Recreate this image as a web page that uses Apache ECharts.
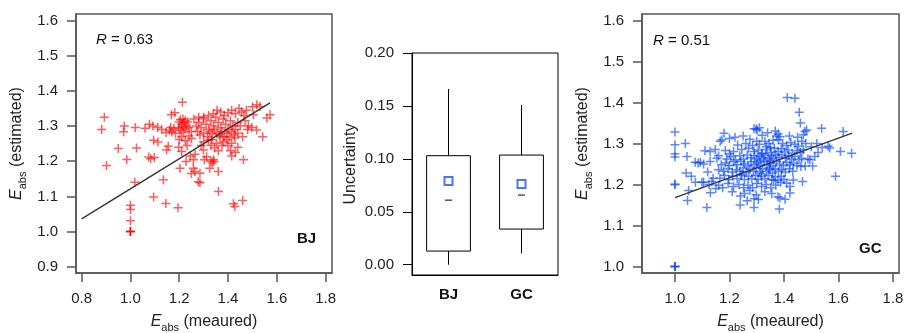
<!DOCTYPE html>
<html>
<head>
<meta charset="utf-8">
<script src="https://cdn.jsdelivr.net/npm/echarts@6/dist/echarts.min.js"></script>
<style>
  html, body { margin: 0; padding: 0; background: #fff; }
  #chart { width: 907px; height: 333px; }
</style>
</head>
<body>
<div id="chart"></div>
<script>
// BJ: estimated vs measured E_abs
const bjPoints = [
  [0.882,1.290],[0.893,1.325],[0.902,1.188],[0.950,1.236],[0.975,1.300],[0.972,1.284],[0.985,1.205],
  [1.020,1.296],[1.025,1.238],[1.018,1.140],[1.000,1.075],[1.000,1.063],[1.000,1.031],[1.000,1.000],
  [1.000,1.000],[1.000,1.000],[1.060,1.294],[1.078,1.305],[1.092,1.300],[1.112,1.296],[1.075,1.212],
  [1.083,1.207],[1.098,1.211],[1.095,1.260],[1.113,1.255],[1.135,1.147],[1.095,1.098],[1.145,1.080],
  [1.195,1.068],[1.128,1.290],[1.146,1.282],[1.160,1.288],[1.148,1.232],[1.155,1.243],[1.168,1.332],
  [1.182,1.338],[1.213,1.368],[1.200,1.312],[1.205,1.318],[1.210,1.305],[1.215,1.320],[1.220,1.310],
  [1.225,1.316],[1.230,1.300],[1.235,1.312],[1.198,1.295],[1.205,1.288],[1.212,1.298],[1.218,1.283],
  [1.225,1.292],[1.240,1.296],[1.250,1.285],[1.178,1.293],[1.185,1.280],[1.170,1.283],[1.165,1.296],
  [1.200,1.262],[1.210,1.270],[1.225,1.258],[1.240,1.272],[1.250,1.265],[1.198,1.240],[1.210,1.228],
  [1.232,1.245],[1.203,1.180],[1.228,1.199],[1.258,1.204],[1.258,1.180],[1.264,1.171],[1.285,1.166],
  [1.278,1.142],[1.285,1.139],[1.250,1.165],[1.245,1.215],[1.265,1.220],[1.303,1.204],[1.312,1.213],
  [1.299,1.232],[1.340,1.204],[1.342,1.199],[1.360,1.171],[1.361,1.114],[1.422,1.079],[1.428,1.071],
  [1.460,1.088],[1.415,1.215],[1.463,1.204],[1.333,1.261],[1.353,1.251],[1.367,1.270],[1.394,1.261],
  [1.415,1.251],[1.428,1.266],[1.345,1.238],[1.360,1.230],[1.375,1.245],[1.330,1.245],[1.330,1.200],
  [1.335,1.195],[1.325,1.180],[1.270,1.300],[1.280,1.310],[1.290,1.295],[1.300,1.320],[1.310,1.305],
  [1.320,1.290],[1.330,1.315],[1.340,1.300],[1.350,1.325],[1.360,1.310],[1.370,1.295],[1.380,1.320],
  [1.390,1.305],[1.400,1.290],[1.410,1.315],[1.420,1.300],[1.430,1.290],[1.440,1.310],[1.275,1.285],
  [1.285,1.275],[1.300,1.280],[1.315,1.270],[1.325,1.285],[1.335,1.278],[1.345,1.290],[1.355,1.280],
  [1.365,1.275],[1.375,1.285],[1.385,1.270],[1.395,1.280],[1.405,1.270],[1.415,1.285],[1.425,1.275],
  [1.440,1.280],[1.300,1.255],[1.320,1.260],[1.380,1.255],[1.400,1.245],[1.290,1.245],[1.340,1.335],
  [1.355,1.345],[1.370,1.340],[1.385,1.330],[1.400,1.338],[1.415,1.345],[1.430,1.335],[1.445,1.350],
  [1.455,1.340],[1.465,1.330],[1.300,1.325],[1.320,1.330],[1.260,1.320],[1.280,1.325],[1.504,1.332],
  [1.518,1.361],[1.531,1.356],[1.559,1.323],[1.572,1.332],[1.517,1.289],[1.542,1.270],[1.483,1.300],
  [1.497,1.296],[1.470,1.315],[1.480,1.290],[1.460,1.270],[1.450,1.300],[1.475,1.345],[1.500,1.355],
  [1.440,1.240],[1.430,1.225],[1.410,1.230]
];
const bjFit = [[0.80, 1.036], [1.572, 1.366]];

// GC: estimated vs measured E_abs
const gcPoints = [
  [1.000,1.328],[1.000,1.297],[1.000,1.275],[1.000,1.267],[1.000,1.201],[1.000,1.199],[1.000,1.000],
  [1.000,1.000],[1.000,1.000],[1.038,1.300],[1.044,1.268],[1.041,1.228],[1.050,1.185],[1.046,1.161],
  [1.074,1.254],[1.093,1.254],[1.099,1.205],[1.117,1.144],[1.125,1.200],[1.135,1.207],[1.129,1.280],
  [1.148,1.285],[1.154,1.264],[1.129,1.256],[1.166,1.305],[1.172,1.309],[1.180,1.325],[1.220,1.315],
  [1.239,1.150],[1.290,1.144],[1.306,1.163],[1.298,1.335],[1.302,1.333],[1.379,1.323],[1.379,1.309],
  [1.385,1.167],[1.404,1.164],[1.383,1.140],[1.412,1.412],[1.440,1.410],[1.456,1.376],[1.477,1.329],
  [1.483,1.333],[1.471,1.321],[1.538,1.337],[1.562,1.293],[1.568,1.289],[1.617,1.329],[1.607,1.280],
  [1.648,1.276],[1.589,1.220],[1.465,1.264],[1.495,1.260],[1.513,1.268],[1.468,1.207],[1.452,1.293],
  [1.471,1.285],[1.422,1.195],[1.410,1.203],[1.105,1.205],[1.434,1.211],[1.422,1.179],
  [1.260,1.300],[1.285,1.295],[1.310,1.298],[1.330,1.305],[1.345,1.300],[1.360,1.308],[1.372,1.318],
  [1.395,1.300],[1.410,1.295],[1.425,1.302],[1.440,1.298],[1.350,1.290],[1.335,1.292],[1.300,1.305],
  [1.230,1.296],[1.185,1.283],[1.200,1.275],[1.215,1.280],[1.245,1.285],[1.270,1.288],[1.290,1.280],
  [1.305,1.284],[1.320,1.276],[1.338,1.285],[1.352,1.278],[1.365,1.288],[1.378,1.280],[1.390,1.287],
  [1.402,1.279],[1.415,1.284],[1.430,1.276],[1.448,1.282],[1.460,1.278],[1.190,1.262],[1.205,1.268],
  [1.222,1.260],[1.238,1.270],[1.252,1.262],[1.265,1.272],[1.278,1.265],[1.292,1.270],[1.300,1.262],
  [1.312,1.268],[1.325,1.262],[1.332,1.272],[1.342,1.265],[1.355,1.270],[1.362,1.262],[1.370,1.273],
  [1.382,1.266],[1.393,1.272],[1.405,1.264],[1.418,1.270],[1.428,1.262],[1.440,1.268],[1.455,1.260],
  [1.318,1.275],[1.348,1.258],[1.170,1.248],[1.185,1.252],[1.200,1.246],[1.215,1.255],[1.228,1.248],
  [1.242,1.256],[1.255,1.250],[1.268,1.245],[1.280,1.255],[1.290,1.248],[1.302,1.252],[1.315,1.246],
  [1.328,1.255],[1.338,1.248],[1.350,1.252],[1.360,1.245],[1.372,1.255],[1.385,1.250],[1.398,1.246],
  [1.410,1.254],[1.422,1.248],[1.435,1.252],[1.448,1.246],[1.462,1.244],[1.308,1.258],[1.345,1.240],
  [1.160,1.236],[1.178,1.232],[1.195,1.238],[1.210,1.230],[1.225,1.236],[1.238,1.232],[1.250,1.240],
  [1.262,1.230],[1.275,1.237],[1.288,1.232],[1.298,1.240],[1.310,1.230],[1.322,1.238],[1.335,1.232],
  [1.348,1.236],[1.358,1.228],[1.368,1.238],[1.380,1.232],[1.392,1.236],[1.405,1.230],[1.420,1.238],
  [1.432,1.232],[1.165,1.215],[1.182,1.222],[1.198,1.212],[1.212,1.220],[1.228,1.214],[1.242,1.222],
  [1.255,1.212],[1.270,1.220],[1.282,1.214],[1.295,1.222],[1.305,1.212],[1.318,1.220],[1.330,1.214],
  [1.342,1.222],[1.355,1.212],[1.368,1.218],[1.378,1.210],[1.390,1.220],[1.400,1.212],[1.245,1.225],
  [1.315,1.226],[1.160,1.198],[1.175,1.192],[1.195,1.202],[1.215,1.195],[1.235,1.200],[1.252,1.192],
  [1.268,1.198],[1.285,1.192],[1.300,1.202],[1.318,1.195],[1.335,1.200],[1.352,1.192],[1.370,1.198],
  [1.388,1.205],[1.362,1.210],[1.210,1.182],[1.255,1.178],[1.275,1.185],[1.298,1.175],[1.330,1.182],
  [1.355,1.178],[1.378,1.170],[1.240,1.172],[1.265,1.160],[1.290,1.165],[1.200,1.312],[1.250,1.318],
  [1.275,1.310],[1.320,1.320],[1.340,1.326],[1.368,1.330],[1.385,1.316],[1.420,1.318],[1.450,1.315],
  [1.465,1.305],[1.480,1.300],[1.500,1.292],[1.520,1.300],[1.540,1.290],[1.488,1.262],[1.505,1.245],
  [1.478,1.245],[1.525,1.278],[1.290,1.336],[1.310,1.338],[1.460,1.350],[1.110,1.282],[1.105,1.250],
  [1.085,1.252],[1.120,1.230],[1.140,1.215],[1.150,1.190],[1.130,1.180],[1.060,1.220],[1.075,1.205],
  [1.160,1.270]
];
const gcFit = [[1.00, 1.168], [1.65, 1.325]];

// uncertainty box plot: [index, min, q1, median, q3, max]
const boxSites = ['BJ', 'GC'];
const boxStats = [
  [0, 0.000, 0.0129, 0.061, 0.103, 0.166],
  [1, 0.0107, 0.0337, 0.0658, 0.1036, 0.151]
];
const boxMeans = [[0, 0.079], [1, 0.0762]];

const xTicksBJ = [0.8, 1.0, 1.2, 1.4, 1.6, 1.8];
const yTicksBJ = [0.9, 1.0, 1.1, 1.2, 1.3, 1.4, 1.5, 1.6];
const xTicksGC = [1.0, 1.2, 1.4, 1.6, 1.8];
const yTicksGC = [1.0, 1.1, 1.2, 1.3, 1.4, 1.5, 1.6];
const yTicksUnc = [0, 0.05, 0.10, 0.15, 0.20];

const FONT = 'Liberation Sans, Arial, sans-serif';
const plus = 'path://M5,0H7V5H12V7H7V12H5V7H0V5H5Z';
const grey = '#555';

const subName = (rest) => '{e|E}{s|abs}{t| ' + rest + '}';
const nameStyle = {
  fontFamily: FONT, fontSize: 16, color: '#222',
  rich: {
    e: { fontFamily: FONT, fontSize: 16, fontStyle: 'italic', lineHeight: 22, color: '#222' },
    s: { fontFamily: FONT, fontSize: 11, verticalAlign: 'bottom', lineHeight: 12, color: '#222' },
    t: { fontFamily: FONT, fontSize: 16, lineHeight: 22, color: '#222' }
  }
};

function valueAxis(grid, min, max, ticks, digits, color, extra) {
  const w = color === grey ? 1.5 : 1;
  return Object.assign({
    type: 'value', gridIndex: grid, min, max,
    axisLine: { show: true, onZero: false, lineStyle: { color, width: w } },
    axisTick: { show: true, length: 9, customValues: ticks, lineStyle: { color, width: w } },
    axisLabel: { customValues: ticks, formatter: (v) => v.toFixed(digits), fontFamily: FONT, fontSize: 15, color: '#222', margin: 18 },
    splitLine: { show: false },
    nameLocation: 'middle',
    nameTextStyle: nameStyle
  }, extra);
}

function boxItem(params, api) {
  const i = api.value(0);
  const lo = api.coord([i, api.value(1)]);
  const q1 = api.coord([i, api.value(2)]);
  const md = api.coord([i, api.value(3)]);
  const q3 = api.coord([i, api.value(4)]);
  const hi = api.coord([i, api.value(5)]);
  const bw = api.size([1, 0])[0] * 0.6;
  const st = { stroke: '#000', lineWidth: 1, fill: null };
  return {
    type: 'group',
    children: [
      { type: 'line', shape: { x1: lo[0], y1: lo[1], x2: q1[0], y2: q1[1] }, style: st },
      { type: 'line', shape: { x1: q3[0], y1: q3[1], x2: hi[0], y2: hi[1] }, style: st },
      { type: 'rect', shape: { x: q1[0] - bw / 2, y: q3[1], width: bw, height: q1[1] - q3[1] }, style: { stroke: '#000', lineWidth: 1, fill: '#fff' } },
      { type: 'line', shape: { x1: md[0] - 3.5, y1: md[1], x2: md[0] + 3.5, y2: md[1] }, style: st }
    ]
  };
}

const label = (text, left, top, bold) => ({
  text, left, top, padding: 0,
  textStyle: {
    fontFamily: FONT, fontSize: 15, color: '#111', fontWeight: bold ? 'bold' : 'normal',
    rich: {
      i: { fontFamily: FONT, fontSize: 15, fontStyle: 'italic', color: '#111' },
      n: { fontFamily: FONT, fontSize: 15, color: '#111' }
    }
  }
});

const chart = echarts.init(document.getElementById('chart'));
chart.setOption({
  animation: false,
  backgroundColor: '#fff',
  title: [
    label('{i|R}{n| = 0.63}', 96, 32),
    label('BJ', 297, 231, true),
    label('{i|R}{n| = 0.51}', 653, 33),
    label('GC', 859, 241, true)
  ],
  grid: [
    { left: 76, top: 14, width: 256, height: 259, show: true, borderColor: grey, borderWidth: 1.5, outerBoundsMode: 'none' },
    { left: 412, top: 53, width: 146, height: 222, show: true, borderColor: '#000', borderWidth: 1, outerBoundsMode: 'none' },
    { left: 642, top: 14, width: 257, height: 259, show: true, borderColor: grey, borderWidth: 1.5, outerBoundsMode: 'none' }
  ],
  xAxis: [
    valueAxis(0, 0.777, 1.826, xTicksBJ, 1, grey, { name: subName('(meaured)'), nameGap: 38 }),
    {
      type: 'category', gridIndex: 1, data: boxSites,
      axisLine: { show: true, onZero: false, lineStyle: { color: '#000' } },
      axisTick: { show: false },
      axisLabel: { fontFamily: FONT, fontSize: 15, fontWeight: 'bold', color: '#111', margin: 12 }
    },
    valueAxis(2, 0.879, 1.822, xTicksGC, 1, grey, { name: subName('(meaured)'), nameGap: 38 })
  ],
  yAxis: [
    valueAxis(0, 0.882, 1.619, yTicksBJ, 1, grey, { name: subName('(estimated)'), nameGap: 48 }),
    valueAxis(1, -0.0097, 0.2, yTicksUnc, 2, '#000', {
      name: 'Uncertainty', nameGap: 53,
      nameTextStyle: { fontFamily: FONT, fontSize: 16, color: '#222' }
    }),
    valueAxis(2, 0.984, 1.6156, yTicksGC, 1, grey, { name: subName('(estimated)'), nameGap: 48 })
  ],
  series: [
    {
      type: 'scatter', xAxisIndex: 0, yAxisIndex: 0, data: bjPoints,
      symbol: plus, symbolSize: 9,
      itemStyle: { color: 'rgba(255,0,0,0.8)' }
    },
    {
      type: 'line', xAxisIndex: 0, yAxisIndex: 0, data: bjFit, symbol: 'none',
      lineStyle: { color: '#333', width: 1.3 }, z: 3
    },
    {
      type: 'custom', xAxisIndex: 1, yAxisIndex: 1, data: boxStats,
      encode: { x: 0, y: [1, 2, 3, 4, 5] }, renderItem: boxItem
    },
    {
      type: 'scatter', xAxisIndex: 1, yAxisIndex: 1, data: boxMeans,
      symbol: 'rect', symbolSize: 8, z: 5,
      itemStyle: { color: '#fff', borderColor: '#1f4fff', borderWidth: 2 }
    },
    {
      type: 'scatter', xAxisIndex: 2, yAxisIndex: 2, data: gcPoints,
      symbol: plus, symbolSize: 9,
      itemStyle: { color: 'rgba(0,64,255,0.8)' }
    },
    {
      type: 'line', xAxisIndex: 2, yAxisIndex: 2, data: gcFit, symbol: 'none',
      lineStyle: { color: '#333', width: 1.3 }, z: 3
    }
  ]
});
</script>
</body>
</html>
